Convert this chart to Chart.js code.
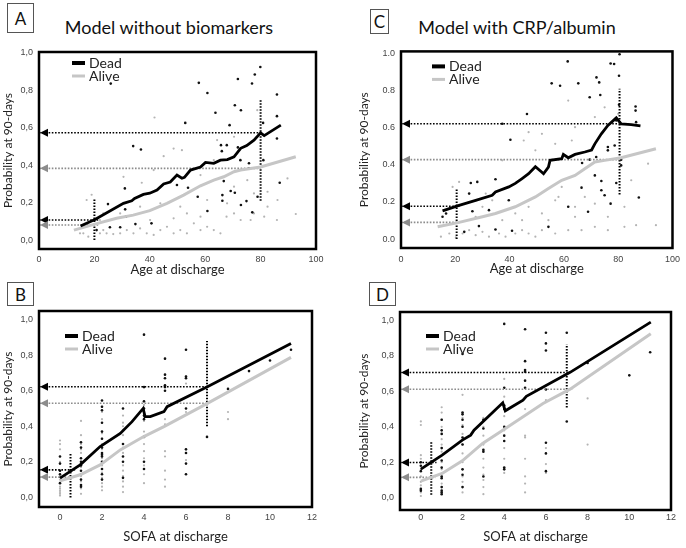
<!DOCTYPE html>
<html>
<head>
<meta charset="utf-8">
<script src="https://cdn.jsdelivr.net/npm/chart.js@4.4.1/dist/chart.umd.min.js"></script>
<style>
  body { margin: 0; background: #fff; width: 686px; height: 548px; position: relative; overflow: hidden; font-family: Lato, sans-serif; }
  canvas { position: absolute; }
  .tag { position: absolute; border: 1px solid #555; box-sizing: border-box; font-size: 17px; color: #111;
         display: flex; align-items: center; justify-content: center; }
  .title { position: absolute; font-size: 18px; line-height: 20px; color: #111; white-space: nowrap; transform: translateX(-50%); }
</style>
</head>
<body>
<div class="tag" style="left:7px;top:3px;width:27px;height:30px">A</div>
<div class="tag" style="left:370px;top:9px;width:19px;height:25px">C</div>
<div class="tag" style="left:7px;top:282px;width:27px;height:24px">B</div>
<div class="tag" style="left:369px;top:282px;width:27px;height:24px">D</div>
<div class="title" style="left:169px;top:17px">Model without biomarkers</div>
<div class="title" style="left:517px;top:17px">Model with CRP/albumin</div>

<canvas id="chartA" width="330" height="240" style="left:0;top:40px"></canvas>
<canvas id="chartC" width="330" height="240" style="left:356px;top:40px"></canvas>
<canvas id="chartB" width="330" height="258" style="left:0;top:290px"></canvas>
<canvas id="chartD" width="330" height="258" style="left:356px;top:290px"></canvas>

<script>
// tick labels
const probTicks = [0, 0.2, 0.4, 0.6, 0.8, 1.0];
const ageTicks = [0, 20, 40, 60, 80, 100];
const sofaTicks = [0, 2, 4, 6, 8, 10, 12];

// ---- Panel A: age, model without biomarkers ----
const deadLineA = [[15,0.075],[20.2,0.11],[30.5,0.196],[33.5,0.21],[34.5,0.222],[37.7,0.244],[40,0.25],[42.6,0.267],[45,0.3],[47.4,0.31],[49.8,0.347],[51.6,0.33],[52.5,0.335],[54.7,0.374],[58.3,0.39],[60.1,0.415],[63.1,0.41],[65.5,0.427],[68,0.43],[70.4,0.445],[72.8,0.49],[75,0.505],[77.6,0.534],[80,0.573],[81.3,0.558],[87.3,0.614]];
const aliveLineA = [[12.6,0.053],[20.2,0.085],[28,0.116],[34,0.133],[40,0.157],[46.2,0.196],[52.2,0.24],[58.3,0.29],[63.1,0.32],[66.7,0.338],[70.4,0.365],[72.8,0.374],[80,0.39],[92.7,0.445]];
const deadPtsA = [[25.9,0.836],[57.7,0.84],[60.8,0.786],[71.8,0.861],[77.9,0.885],[76.9,0.837],[79.9,0.925],[85.9,0.778],[85.9,0.662],[63.7,0.68],[70.7,0.72],[72.9,0.694],[68.8,0.614],[52.8,0.626],[85.9,0.543],[80.9,0.626],[34,0.502],[36.8,0.484],[65.7,0.507],[67.8,0.507],[66,0.475],[71.8,0.495],[72.7,0.427],[75.8,0.41],[75.8,0.383],[81,0.427],[24.9,0.192],[31,0.276],[31.1,0.164],[31.4,0.125],[49.8,0.294],[53.8,0.279],[57.3,0.231],[60.8,0.155],[66.2,0.21],[66.2,0.24],[66.7,0.315],[70.7,0.253],[72.9,0.187],[74.9,0.208],[77,0.148],[78.9,0.231],[86.9,0.306],[40.6,0.089],[34.8,0.085],[25.6,0.068],[29.3,0.068],[20.8,0.053],[69.2,0.262]];
const alivePtsA = [[19,0.242],[17.2,0.214],[16,0.036],[14.8,0.036],[17.8,0.018],[22,0.036],[23.2,0.053],[24.4,0.036],[26.8,0.032],[29.3,0.036],[31.7,0.053],[34.1,0.036],[36.5,0.062],[38.9,0.036],[41.4,0.027],[43.8,0.053],[46.2,0.071],[48.6,0.036],[51,0.053],[53.4,0.036],[55.9,0.089],[58.3,0.053],[60.7,0.071],[63.1,0.053],[65.5,0.036],[67.7,0.125],[70.4,0.142],[72.8,0.107],[76.4,0.107],[81.3,0.125],[85.9,0.107],[92.7,0.139],[89.7,0.329],[86.1,0.214],[41.7,0.655],[30.5,0.338],[37.1,0.306],[48.6,0.489],[51.6,0.48],[45,0.448],[41.4,0.374],[58.3,0.347],[63.1,0.427],[64.3,0.534],[70.4,0.552],[78.8,0.694],[77.6,0.249],[82.5,0.258],[36.5,0.178],[43.8,0.196],[51,0.178],[53.4,0.142],[60.7,0.214],[70.4,0.285],[75.2,0.32],[25.6,0.107],[29.3,0.142],[22,0.107],[23.2,0.142],[40.1,0.107],[48.6,0.116],[58.3,0.125],[67.9,0.196],[82.5,0.178],[77.6,0.142]];
const columnsA = [[20, 0, 0.22], [80, 0.21, 0.75]];
const deadArrowsA = [[80, 0.573], [21.5, 0.107]];
const aliveArrowsA = [[80, 0.383], [21.5, 0.08]];

// ---- Panel C: age, model with CRP/albumin ----
const deadLineC = [[15.3,0.152],[21.4,0.182],[27.5,0.209],[33.6,0.236],[34.8,0.254],[39.7,0.281],[42.1,0.3],[44.6,0.326],[47,0.352],[49.5,0.39],[51.9,0.36],[52.5,0.352],[54.3,0.388],[54.9,0.424],[59.2,0.433],[59.8,0.456],[61.6,0.438],[64.1,0.456],[67.7,0.469],[70.2,0.48],[71.4,0.513],[73.8,0.567],[76.2,0.612],[79.3,0.653],[81.1,0.621],[84.8,0.617],[88.2,0.61]];
const aliveLineC = [[13.5,0.066],[21.4,0.09],[30,0.12],[34.8,0.138],[42.1,0.174],[49.5,0.227],[54.3,0.272],[59.2,0.317],[64.1,0.343],[67.7,0.379],[71.4,0.415],[75,0.424],[81.1,0.438],[93.9,0.487]];
const deadPtsC = [[80.5,0.996],[61.4,0.957],[77.2,0.946],[78.5,0.943],[72,0.871],[73,0.844],[55.5,0.839],[80.3,0.88],[65.3,0.839],[58.6,0.826],[69.5,0.764],[73.4,0.776],[86.4,0.714],[86.4,0.692],[46.4,0.674],[37.3,0.621],[80.3,0.724],[79.3,0.639],[86.6,0.63],[40.3,0.535],[76.2,0.496],[76.2,0.478],[78.7,0.504],[71.9,0.442],[69.5,0.428],[66.7,0.41],[81.1,0.428],[81.1,0.397],[25.7,0.302],[28.1,0.308],[34.8,0.322],[73.8,0.313],[16.6,0.138],[25.1,0.245],[32.4,0.156],[26.3,0.15],[39.7,0.209],[61.6,0.174],[75,0.236],[73.8,0.263],[71.4,0.343],[66.5,0.277],[77.2,0.191],[68.9,0.147],[79.3,0.302],[87.6,0.224],[28.7,0.07],[34.8,0.052],[40.9,0.045],[15.3,0.12],[23.3,0.039],[54.3,0.066]];
const alivePtsC = [[14.7,0.013],[17.8,0.03],[20.2,0.009],[22.7,0.03],[25.1,0.048],[27.5,0.021],[30,0.039],[32.4,0.013],[36.1,0.03],[38.5,0.013],[42.1,0.03],[44.6,0.048],[47,0.03],[49.5,0.013],[51.9,0.048],[56.8,0.03],[61.6,0.048],[66.5,0.048],[71.4,0.066],[76.2,0.048],[82.3,0.066],[86.6,0.075],[93.9,0.075],[37.3,0.424],[45.2,0.531],[47,0.576],[51.9,0.567],[56.8,0.513],[49.5,0.478],[62.9,0.531],[64.1,0.603],[71.4,0.657],[75,0.71],[80,0.674],[61.6,0.746],[91,0.406],[84.8,0.317],[19,0.281],[21.4,0.308],[31.2,0.245],[30,0.174],[33.6,0.209],[42.1,0.138],[47,0.174],[51.9,0.138],[56.8,0.209],[59.2,0.281],[64.1,0.174],[67.7,0.227],[71.4,0.191],[76.2,0.12],[82.3,0.174],[27.5,0.12],[37.3,0.102],[44.6,0.102],[54.3,0.102],[64.1,0.12],[58,0.227]];
const columnsC = [[20.5, 0, 0.27], [80.5, 0.24, 0.81]];
const deadArrowsC = [[80.5, 0.621], [21.5, 0.177]];
const aliveArrowsC = [[80.5, 0.428], [21.5, 0.09]];

// ---- Panel B: SOFA, model without biomarkers ----
const deadLineB = [[0,0.108],[0.96,0.183],[1.91,0.286],[2.87,0.36],[3.43,0.426],[3.96,0.5],[4.05,0.454],[4.3,0.454],[4.95,0.482],[5.1,0.51],[7.02,0.622],[11,0.865]];
const aliveLineB = [[0,0.093],[0.96,0.127],[1.91,0.183],[2.87,0.267],[3.99,0.342],[4.95,0.398],[7.02,0.529],[11,0.787]];
const deadColsB = [[0,[0.15,0.23,0.19,0.08,0.13]],[1,[0.31,0.28,0.22,0.2,0.18,0.15,0.1,0.07,0.06,0.13]],[2,[0.545,0.51,0.49,0.42,0.37,0.33,0.28,0.25,0.24,0.23,0.2,0.16,0.13,0.1]],[3,[0.5,0.3,0.23,0.2,0.11]],[4,[0.915,0.62,0.54,0.5,0.46,0.44,0.34,0.2,0.16]],[5,[0.78,0.69,0.67,0.63,0.62,0.6]],[6,[0.83,0.68,0.67,0.5,0.27,0.25,0.19,0.13]],[7,[0.34]],[8,[0.61]],[9,[0.71]],[10,[0.77]],[11,[0.83]]];
const aliveColsB = [[0,[0.32,0.3,0.27,0.2,0.15,0.12,0.1,0.08,0.06,0.05,0.04,0.03,0.02,0.01]],[1,[0.43,0.35,0.3,0.27,0.25,0.2,0.17,0.12,0.09,0.05,0.02]],[2,[0.51,0.48,0.44,0.36,0.33,0.3,0.27,0.22,0.18,0.14,0.11,0.08,0.06,0.04]],[3,[0.46,0.42,0.4,0.38,0.35,0.28,0.25,0.18,0.15,0.12,0.09,0.06,0.03]],[4,[0.52,0.48,0.43,0.37,0.3,0.26,0.22,0.18,0.13,0.08]],[5,[0.44,0.41,0.26,0.23,0.15,0.1,0.06]],[6,[0.68,0.64,0.48,0.25,0.21]],[8,[0.48,0.44]]];
const columnsB = [[0.5, 0, 0.25], [7, 0.40, 0.88]];
const deadArrowsB = [[7, 0.622], [0.72, 0.155]];
const aliveArrowsB = [[7, 0.529], [0.7, 0.114]];

// ---- Panel D: SOFA, model with CRP/albumin ----
const deadLineD = [[0,0.161],[1.02,0.24],[1.99,0.325],[2.39,0.353],[2.55,0.381],[3.93,0.535],[4.05,0.49],[4.9,0.55],[5.06,0.572],[7.16,0.707],[11.03,0.99]];
const aliveLineD = [[0,0.094],[1.02,0.137],[1.99,0.208],[2.96,0.306],[3.93,0.381],[5.86,0.531],[7.16,0.612],[11.03,0.925]];
const deadColsD = [[0,[0.2,0.18,0.15,0.05,0.04]],[1,[0.44,0.38,0.36,0.28,0.21,0.17,0.12,0.11,0.06,0.04,0.03,0.02]],[2,[0.81,0.48,0.47,0.44,0.4,0.34,0.3,0.16,0.13,0.06]],[3,[0.44,0.39,0.27,0.26,0.12]],[4,[0.98,0.62,0.52,0.5,0.4,0.35,0.32,0.17,0.16]],[5,[0.95,0.77,0.72,0.71,0.66,0.62]],[6,[0.93,0.87,0.83,0.61,0.31,0.25,0.15]],[7,[0.93,0.43]],[8,[0.76]],[10,[0.69]],[11,[0.82]]];
const aliveColsD = [[0,[0.43,0.41,0.24,0.22,0.16,0.12,0.09,0.07,0.05,0.03,0.01]],[1,[0.51,0.48,0.44,0.4,0.33,0.3,0.26,0.2,0.16,0.12,0.08,0.03]],[2,[0.58,0.45,0.41,0.36,0.3,0.25,0.2,0.16,0.12,0.09,0.06,0.03]],[3,[0.45,0.4,0.35,0.3,0.22,0.17,0.13,0.1,0.06,0.02]],[4,[0.67,0.57,0.46,0.38,0.28,0.22,0.14]],[5,[0.5,0.35,0.34,0.22,0.12,0.08,0.03]],[6,[0.55,0.28,0.19,0.14]],[8,[0.56,0.3]]];
const columnsD = [[0.5, 0.017, 0.32], [7, 0.509, 0.865]];
const deadArrowsD = [[7.1, 0.706], [0.75, 0.199]];
const aliveArrowsD = [[7.3, 0.612], [0.7, 0.115]];

const BLACK = '#000';
const GREY_LINE = '#c6c6c6';
const GREY_DOT = '#b4b4b4';
const GREY_ARROW = '#8c8c8c';

Chart.defaults.font.family = '"Liberation Sans", Arial, sans-serif';
Chart.defaults.color = '#333';

function pairs(list) {
  return list.map(p => ({ x: p[0], y: p[1] }));
}

function expandCols(list) {
  const out = [];
  list.forEach(c => c[1].forEach(y => out.push({ x: c[0], y: y })));
  return out;
}

// draws arrowheads, the in-plot legend and the heavy frame
const panelPlugin = {
  id: 'panel',
  afterDatasetsDraw(chart, args, opts) {
    const { ctx, chartArea: a, scales } = chart;
    ctx.save();

    chart.data.datasets.forEach(ds => {
      if (!ds.arrow) return;
      const y = scales.y.getPixelForValue(ds.data[0].y);
      ctx.fillStyle = ds.borderColor;
      ctx.beginPath();
      ctx.moveTo(a.left + 1, y);
      ctx.lineTo(a.left + 9, y - 4);
      ctx.lineTo(a.left + 9, y + 4);
      ctx.closePath();
      ctx.fill();
    });

    const items = chart.data.datasets.filter(ds => ds.legendLabel);
    ctx.font = '14px Lato, sans-serif';
    ctx.textBaseline = 'middle';
    items.forEach((ds, i) => {
      const x = a.left + opts.legendX;
      const y = a.top + opts.legendY + i * 13;
      ctx.strokeStyle = ds.borderColor;
      ctx.lineWidth = ds.legendWidth;
      ctx.beginPath();
      ctx.moveTo(x, y);
      ctx.lineTo(x + 13, y);
      ctx.stroke();
      ctx.fillStyle = '#222';
      ctx.fillText(ds.legendLabel, x + 17, y);
    });

    ctx.lineWidth = 2.5;
    ctx.strokeStyle = '#000';
    ctx.strokeRect(a.left, a.top, a.width, a.height);
    ctx.restore();
  }
};

function makePanel(id, cfg) {
  const datasets = [
    { legendLabel: 'Dead', legendWidth: 4, data: pairs(cfg.deadLine), showLine: true,
      borderColor: BLACK, borderWidth: 2.8, pointRadius: 0 },
    { legendLabel: 'Alive', legendWidth: 3, data: pairs(cfg.aliveLine), showLine: true,
      borderColor: GREY_LINE, borderWidth: 3, pointRadius: 0 }
  ];

  cfg.deadArrows.forEach(a => datasets.push({
    arrow: true, data: [{ x: cfg.xMin, y: a[1] }, { x: a[0], y: a[1] }], showLine: true,
    borderColor: BLACK, borderWidth: 1.6, borderDash: [1.6, 1.6], pointRadius: 0
  }));
  cfg.aliveArrows.forEach(a => datasets.push({
    arrow: true, data: [{ x: cfg.xMin, y: a[1] }, { x: a[0], y: a[1] }], showLine: true,
    borderColor: GREY_ARROW, borderWidth: 1.6, borderDash: [1.6, 1.6], pointRadius: 0
  }));
  cfg.columns.forEach(c => datasets.push({
    data: [{ x: c[0], y: c[1] }, { x: c[0], y: c[2] }], showLine: true,
    borderColor: BLACK, borderWidth: 2, borderDash: [1.5, 1.5], pointRadius: 0
  }));

  datasets.push({ data: cfg.deadPts, pointRadius: 1.3, pointBorderWidth: 0, pointBackgroundColor: '#111' });
  datasets.push({ data: cfg.alivePts, pointRadius: 1.1, pointBorderWidth: 0, pointBackgroundColor: GREY_DOT });

  new Chart(document.getElementById(id), {
    type: 'scatter',
    data: { datasets: datasets },
    plugins: [panelPlugin],
    options: {
      responsive: false,
      animation: false,
      events: [],
      layout: { padding: { top: cfg.padTop, right: cfg.padRight, left: 0, bottom: 0 } },
      plugins: {
        legend: { display: false },
        tooltip: { enabled: false },
        panel: { legendX: cfg.legendX, legendY: cfg.legendY }
      },
      scales: {
        x: {
          type: 'linear',
          min: cfg.xMin,
          max: cfg.xMax,
          afterBuildTicks: s => { s.ticks = cfg.xTicks.map(v => ({ value: v })); },
          afterFit: s => { s.height = cfg.xAxisH; },
          grid: { display: false, drawTicks: false },
          border: { display: false },
          ticks: { font: { size: 9 }, padding: cfg.xTickPad, maxRotation: 0, color: '#444' },
          title: {
            display: true, text: cfg.xTitle, color: '#222',
            font: { family: 'Lato, sans-serif', size: 13 },
            padding: { top: 0, bottom: cfg.xTitlePad }
          }
        },
        y: {
          type: 'linear',
          min: cfg.yMin,
          max: cfg.yMax,
          afterBuildTicks: s => { s.ticks = probTicks.map(v => ({ value: v })); },
          afterFit: s => { s.width = cfg.yAxisW; },
          grid: { display: false, drawTicks: false },
          border: { display: false },
          ticks: {
            font: { size: 9 }, padding: 6, color: '#444',
            callback: v => v.toFixed(1).replace('.', cfg.decimal)
          },
          title: {
            display: true, text: 'Probability at 90-days', color: '#222',
            font: { family: 'Lato, sans-serif', size: 12 },
            padding: { top: 1, bottom: 0 }
          }
        }
      }
    }
  });
}

makePanel('chartA', {
  deadLine: deadLineA, aliveLine: aliveLineA, deadPts: pairs(deadPtsA), alivePts: pairs(alivePtsA),
  columns: columnsA, deadArrows: deadArrowsA, aliveArrows: aliveArrowsA,
  xMin: 0, xMax: 100, xTicks: ageTicks, xTitle: 'Age at discharge', yMin: -0.048, yMax: 1.005,
  decimal: ',', padTop: 12, padRight: 14, yAxisW: 39, xAxisH: 31, xTickPad: 5, xTitlePad: 2,
  legendX: 33, legendY: 11
});

makePanel('chartC', {
  deadLine: deadLineC, aliveLine: aliveLineC, deadPts: pairs(deadPtsC), alivePts: pairs(alivePtsC),
  columns: columnsC, deadArrows: deadArrowsC, aliveArrows: aliveArrowsC,
  xMin: 0, xMax: 100, xTicks: ageTicks, xTitle: 'Age at discharge', yMin: -0.048, yMax: 1.011,
  decimal: '.', padTop: 11, padRight: 10, yAxisW: 45, xAxisH: 32, xTickPad: 6, xTitlePad: 3,
  legendX: 31, legendY: 15
});

makePanel('chartB', {
  deadLine: deadLineB, aliveLine: aliveLineB, deadPts: expandCols(deadColsB), alivePts: expandCols(aliveColsB),
  columns: columnsB, deadArrows: deadArrowsB, aliveArrows: aliveArrowsB,
  xMin: -1, xMax: 12, xTicks: sofaTicks, xTitle: 'SOFA at discharge', yMin: -0.054, yMax: 1.048,
  decimal: ',', padTop: 21, padRight: 18, yAxisW: 39, xAxisH: 41, xTickPad: 5, xTitlePad: 3,
  legendX: 26, legendY: 25
});

makePanel('chartD', {
  deadLine: deadLineD, aliveLine: aliveLineD, deadPts: expandCols(deadColsD), alivePts: expandCols(aliveColsD),
  columns: columnsD, deadArrows: deadArrowsD, aliveArrows: aliveArrowsD,
  xMin: -1, xMax: 12, xTicks: sofaTicks, xTitle: 'SOFA at discharge', yMin: -0.069, yMax: 1.047,
  decimal: ',', padTop: 22, padRight: 15, yAxisW: 44, xAxisH: 38, xTickPad: 2, xTitlePad: 3,
  legendX: 26, legendY: 24
});
</script>
</body>
</html>
